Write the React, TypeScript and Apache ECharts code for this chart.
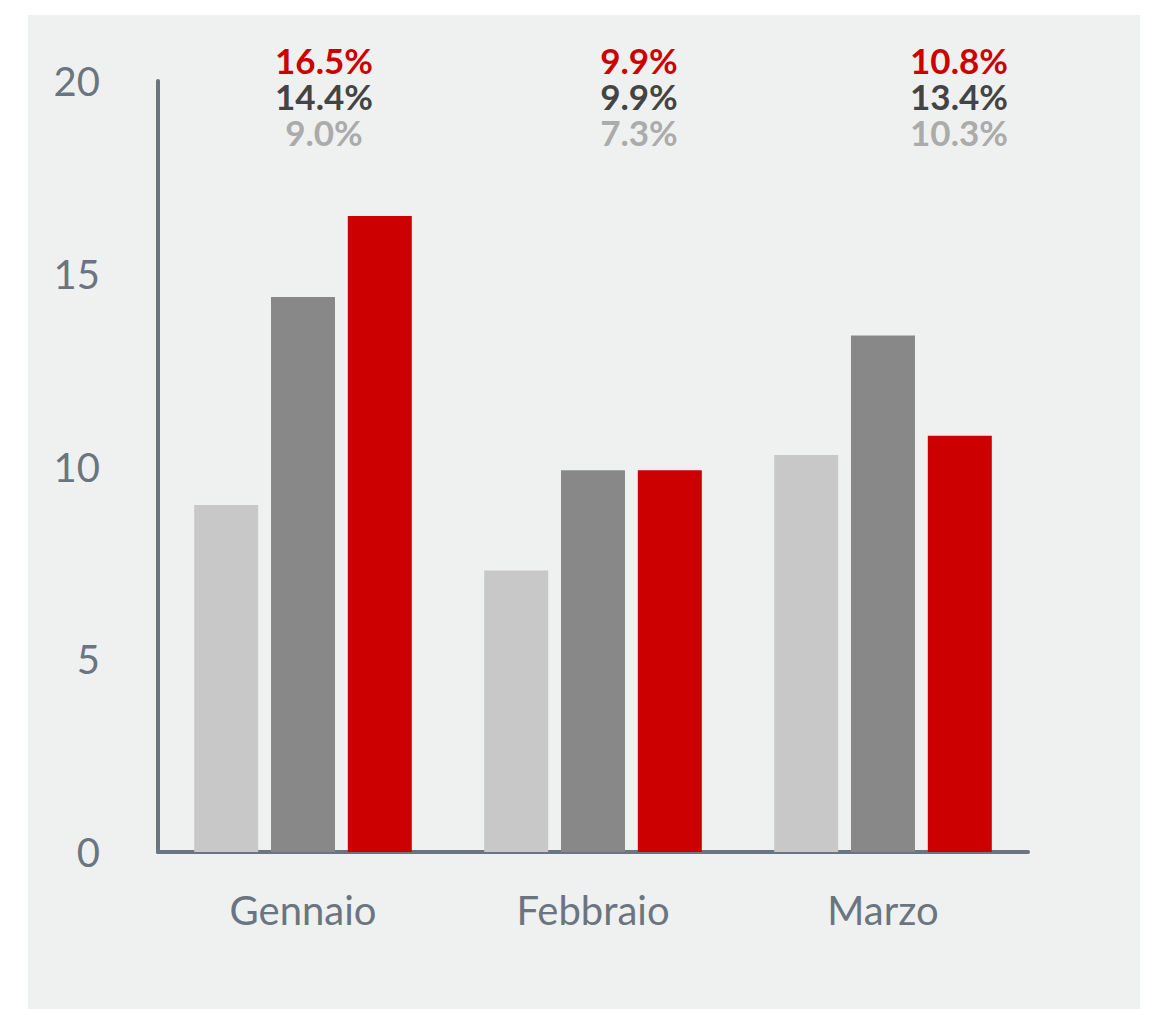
import React, { useEffect, useRef } from "react";
import * as echarts from "echarts";

const categories = ["Gennaio", "Febbraio", "Marzo"];
const seriesLight = [9.0, 7.3, 10.3];
const seriesDark = [14.4, 9.9, 13.4];
const seriesRed = [16.5, 9.9, 10.8];
const yTickValues = [0, 5, 10, 15, 20];

const COLOR_LIGHT = "#c8c8c8";
const COLOR_DARK = "#888888";
const COLOR_RED = "#cc0000";
const LABEL_LIGHT = "#aaabaa";
const LABEL_DARK = "#444444";
const AXIS_COLOR = "#6b7580";
const PANEL = "#eff1f0";

const labelCenters = [324, 639, 959];
const labelTop = 42;

export default function App() {
  const ref = useRef<HTMLDivElement>(null);
  useEffect(() => {
    if (!ref.current) return;
    const chart = echarts.init(ref.current, null, { renderer: "svg" });
    const fmt = (v: number) => v.toFixed(1) + "%";
    const base = { fontFamily: "Lato", fontWeight: "bold", fontSize: 35, lineHeight: 36 };
    const texts: any[] = categories.map((_, i) => ({
      type: "text",
      x: labelCenters[i],
      y: labelTop,
      z: 10,
      style: {
        text: `{r|${fmt(seriesRed[i])}}\n{d|${fmt(seriesDark[i])}}\n{l|${fmt(seriesLight[i])}}`,
        textAlign: "center",
        textVerticalAlign: "top",
        rich: {
          r: { ...base, fill: COLOR_RED, color: COLOR_RED },
          d: { ...base, fill: LABEL_DARK, color: LABEL_DARK },
          l: { ...base, fill: LABEL_LIGHT, color: LABEL_LIGHT },
        },
      },
    }));
    chart.setOption({
      animation: false,
      backgroundColor: "#ffffff",
      textStyle: { fontFamily: "Lato" },
      graphic: [
        {
          type: "rect",
          z: -10,
          silent: true,
          shape: { x: 28, y: 15, width: 1112, height: 994 },
          style: { fill: PANEL },
        },
        ...texts,
      ],
      grid: { left: 158, right: 131, top: 81, bottom: 157, containLabel: false },
      xAxis: {
        type: "category",
        data: categories,
        axisLine: { show: true, lineStyle: { color: AXIS_COLOR, width: 4 } },
        axisTick: { show: false },
        axisLabel: { color: AXIS_COLOR, fontSize: 40, margin: 38, fontFamily: "Lato" },
        splitLine: { show: false },
      },
      yAxis: {
        type: "value",
        min: yTickValues[0],
        max: yTickValues[yTickValues.length - 1],
        interval: 5,
        axisLine: { show: true, lineStyle: { color: AXIS_COLOR, width: 4 } },
        axisTick: { show: false },
        axisLabel: { color: AXIS_COLOR, fontSize: 40, margin: 58, fontFamily: "Lato" },
        splitLine: { show: false },
      },
      series: [
        {
          name: "Serie 1",
          type: "bar",
          data: seriesLight,
          barWidth: 64,
          barGap: "20%",
          itemStyle: { color: COLOR_LIGHT },
        },
        {
          name: "Serie 2",
          type: "bar",
          data: seriesDark,
          barWidth: 64,
          barGap: "20%",
          itemStyle: { color: COLOR_DARK },
        },
        {
          name: "Serie 3",
          type: "bar",
          data: seriesRed,
          barWidth: 64,
          barGap: "20%",
          itemStyle: { color: COLOR_RED },
        },
      ],
    });
    return () => chart.dispose();
  }, []);
  return (
    <div
      ref={ref}
      style={{ position: "absolute", left: 0, top: 0, width: 1159, height: 1009 }}
    />
  );
}
